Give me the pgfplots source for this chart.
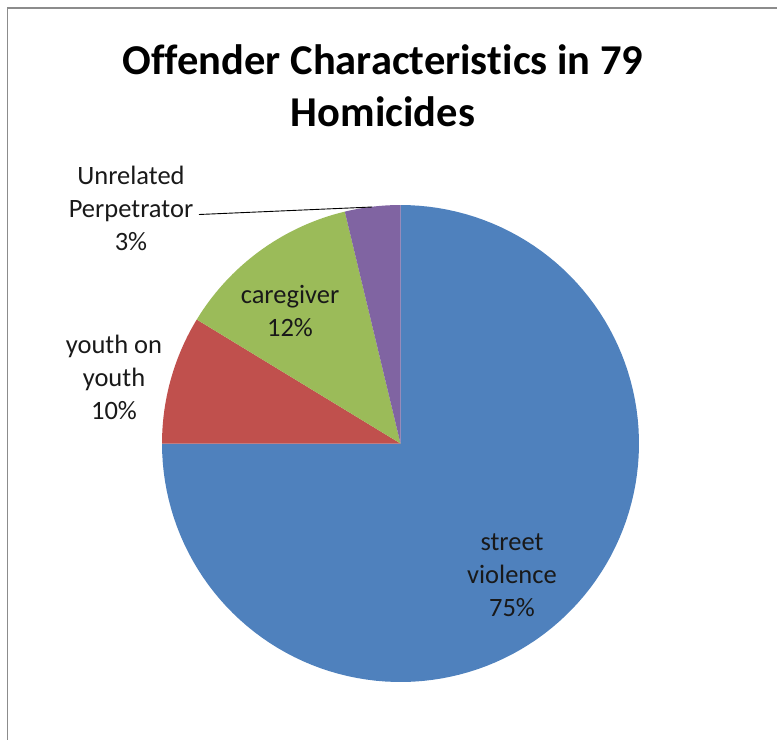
\documentclass[border=0pt]{standalone}
\usepackage{pgfplots}
\pgfplotsset{compat=1.18}
\usepackage{fontspec}
\setmainfont{Carlito}[RawFeature={-liga;-clig;-calt;-dlig;-rlig}]
\definecolor{cBlue}{HTML}{4F81BD}
\definecolor{cRed}{HTML}{C0504D}
\definecolor{cGreen}{HTML}{9BBB59}
\definecolor{cPurple}{HTML}{8064A2}
\definecolor{cFrame}{HTML}{8C8C8C}
% shares of the pie (percent of the circle)
\def\pStreet{75}
\def\pYouth{8.7}
\def\pCare{12.55}
\def\pUnrel{3.75}
\pgfmathsetmacro{\aA}{90}
\pgfmathsetmacro{\aB}{\aA-3.6*\pStreet}
\pgfmathsetmacro{\aC}{\aB-3.6*\pYouth}
\pgfmathsetmacro{\aD}{\aC-3.6*\pCare}
\pgfmathsetmacro{\aE}{\aD-3.6*\pUnrel}
\def\cx{400.5}
\def\cy{443.5}
\def\R{238.5}
\begin{document}
\begin{tikzpicture}
\path[use as bounding box] (0,0) rectangle (777bp,740bp);
\begin{axis}[
  at={(0,0)}, anchor=south west, scale only axis,
  x=1bp, y=1bp, xmin=0, xmax=777, ymin=0, ymax=740,
  y dir=reverse, hide axis, clip=false,
]
% frame
\addplot[cFrame, line width=1.5bp] coordinates {(7.5,740) (7.5,8) (777,8)};
% slices (clockwise from 12 o'clock)
\addplot[fill=cBlue, draw=none, domain=\aB:\aA, samples=120]
  ({\cx+\R*cos(x)},{\cy-\R*sin(x)}) -- (axis cs:\cx,\cy) -- cycle;
\addplot[fill=cRed, draw=none, domain=\aC:\aB, samples=30]
  ({\cx+\R*cos(x)},{\cy-\R*sin(x)}) -- (axis cs:\cx,\cy) -- cycle;
\addplot[fill=cGreen, draw=none, domain=\aD:\aC, samples=30]
  ({\cx+\R*cos(x)},{\cy-\R*sin(x)}) -- (axis cs:\cx,\cy) -- cycle;
\addplot[fill=cPurple, draw=none, domain=\aE:\aD, samples=15]
  ({\cx+\R*cos(x)},{\cy-\R*sin(x)}) -- (axis cs:\cx,\cy) -- cycle;
% leader line
\addplot[black, line width=0.9bp] coordinates {(199,214.5) (372,207)};
% title
\node[align=center, font={\fontsize{42.5bp}{52bp}\selectfont\bfseries}] at (axis cs:383,86)
  {Offender Characteris\kern0pt t\kern0pt ics in 79\\Homicides};
% labels
\node[align=center, font={\fontsize{26.5bp}{33bp}\selectfont}, text=black!90] at (axis cs:131,208)
  {Unrelated\\Perpetrator\\3\%};
\node[align=center, font={\fontsize{26.5bp}{33bp}\selectfont}, text=black!90] at (axis cs:290,311)
  {caregiver\\12\%};
\node[align=center, font={\fontsize{26.5bp}{33bp}\selectfont}, text=black!90] at (axis cs:114,377)
  {youth on\\youth\\10\%};
\node[align=center, font={\fontsize{26.5bp}{33bp}\selectfont}, text=black!90] at (axis cs:512,575)
  {street\\violence\\75\%};
\end{axis}
\end{tikzpicture}
\end{document}
